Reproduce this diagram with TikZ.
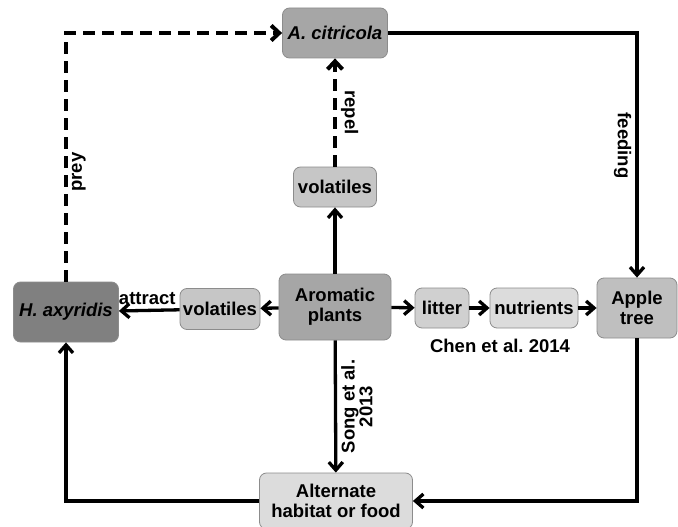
\documentclass[tikz,border=0pt]{standalone}
\usepackage{fontspec}
\setmainfont{Liberation Sans}
\usetikzlibrary{arrows.meta}
\definecolor{boxedge}{HTML}{8C8C8C}
\definecolor{shadeA}{HTML}{808080}
\definecolor{shadeB}{HTML}{A6A6A6}
\definecolor{shadeC}{HTML}{BFBFBF}
\definecolor{shadeD}{HTML}{C6C6C6}
\definecolor{shadeE}{HTML}{D0D0D0}
\definecolor{shadeF}{HTML}{DCDCDC}
\begin{document}
\begin{tikzpicture}[x=1pt, y=-1pt,
  every node/.style={font=\fontsize{18.5}{20}\selectfont\bfseries},
  box/.style={draw=boxedge, line width=0.8pt, rounded corners=7pt, align=center, inner sep=2pt},
  arrow/.style={-{Straight Barb[length=8pt, width=14pt]}, line width=3.3pt},
  dasharrow/.style={-{Straight Barb[length=8pt, width=15pt]}, line width=4pt, dash pattern=on 12pt off 7pt},
  lbl/.style={inner sep=4pt}
]
\useasboundingbox (0,0) rectangle (678,527);

\node[box, fill=shadeB, minimum width=105pt, minimum height=50pt] (citricola) at (335,33) {\itshape A. citricola};
\node[box, fill=shadeD, minimum width=83pt, minimum height=40pt] (volup) at (335,187) {volatiles};
\node[box, fill=shadeB, minimum width=112pt, minimum height=66pt] (aromatic) at (335,307) {Aromatic\\plants};
\node[box, fill=shadeD, minimum width=80pt, minimum height=41pt] (volleft) at (220,309) {volatiles};
\node[box, fill=shadeA, minimum width=105pt, minimum height=60pt] (axyridis) at (66,312) {\itshape H. axyridis};
\node[box, fill=shadeE, minimum width=54pt, minimum height=40pt] (litter) at (442,308) {litter};
\node[box, fill=shadeF, minimum width=88pt, minimum height=40pt] (nutrients) at (534,308) {nutrients};
\node[box, fill=shadeC, minimum width=80pt, minimum height=60pt] (apple) at (637,308) {Apple\\tree};
\node[box, fill=shadeF, minimum width=153pt, minimum height=56pt] (alternate) at (336,501) {Alternate\\habitat or food};
\node (chen) at (500,346) {Chen et al.\ 2014};

\draw[dasharrow] (axyridis) |- node[pos=0.22, rotate=90, anchor=north, lbl]{prey} (citricola);
\draw[dasharrow] (volup) -- node[midway, rotate=-90, anchor=south, lbl]{repel} (citricola);
\draw[arrow] (citricola) -| node[pos=0.73, rotate=-90, anchor=north, lbl]{feeding} (apple);
\draw[arrow] (aromatic) -- (volup);
\draw[arrow] (aromatic) -- (volleft);
\draw[arrow] (volleft) -- node[midway, above, inner sep=1pt, yshift=3pt, xshift=-2pt]{attract} (axyridis);
\draw[arrow] (aromatic) -- (litter);
\draw[arrow] (litter) -- (nutrients);
\draw[arrow] (nutrients) -- (apple);
\draw[arrow] (aromatic) -- node[pos=0.5, rotate=90, anchor=north, lbl, align=center, font=\fontsize{18.5}{15}\selectfont\bfseries]{Song et al.\\2013} (alternate);
\draw[arrow] (apple) |- (alternate);
\draw[arrow] (alternate) -| (axyridis);
\end{tikzpicture}
\end{document}
